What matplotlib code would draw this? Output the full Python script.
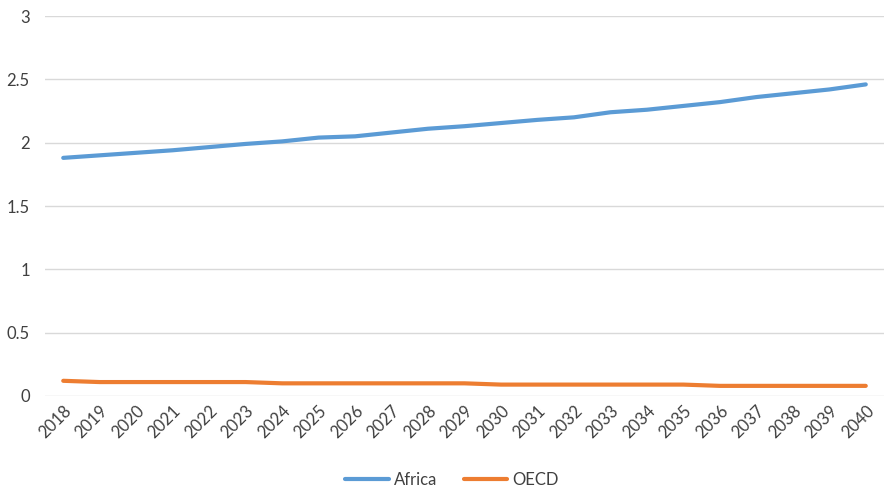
import matplotlib.pyplot as plt
import numpy as np

years = list(range(2018, 2041))
africa = [1.88, 1.90, 1.92, 1.94, 1.965, 1.99, 2.01, 2.04, 2.05, 2.08, 2.11, 2.13,
          2.155, 2.18, 2.20, 2.24, 2.26, 2.29, 2.32, 2.36, 2.39, 2.42, 2.46]
oecd = [0.12, 0.11, 0.11, 0.11, 0.11, 0.11, 0.10, 0.10, 0.10, 0.10, 0.10, 0.10,
        0.09, 0.09, 0.09, 0.09, 0.09, 0.09, 0.08, 0.08, 0.08, 0.08, 0.08]

plt.rcParams['font.family'] = ['Lato', 'DejaVu Sans']
plt.rcParams['font.size'] = 12

fig = plt.figure(figsize=(8.86, 4.91), dpi=100)
ax = fig.add_axes([45 / 886, 1 - 396 / 491, 839 / 886, 380 / 491])

x = np.arange(len(years))
ax.plot(x, africa, color='#5B9BD5', lw=3, solid_capstyle='round', label='Africa')
ax.plot(x, oecd, color='#ED7D31', lw=3, solid_capstyle='round', label='OECD')

ax.set_xlim(-0.5, len(years) - 0.5)
ax.set_ylim(0, 3)
ax.set_yticks([0, 0.5, 1, 1.5, 2, 2.5, 3])
ax.set_yticklabels(['0', '0.5', '1', '1.5', '2', '2.5', '3'])
ax.set_xticks(x)
ax.set_xticklabels([str(y) for y in years], rotation=45, ha='right',
                   rotation_mode='anchor')
ax.grid(axis='y', color='#D9D9D9', lw=1)
ax.set_axisbelow(True)
for s in ax.spines.values():
    s.set_visible(False)
ax.tick_params(length=0, colors='#404040', labelsize=12)
ax.tick_params(axis='x', pad=5)
ax.tick_params(axis='y', pad=11)

fig.legend(loc='center', bbox_to_anchor=(452 / 886, 1 - 480 / 491), ncol=2,
           frameon=False, handlelength=2.6, handletextpad=0.3,
           columnspacing=1.6, fontsize=12, labelcolor='#404040')

fig.savefig('out.png', dpi=100)
